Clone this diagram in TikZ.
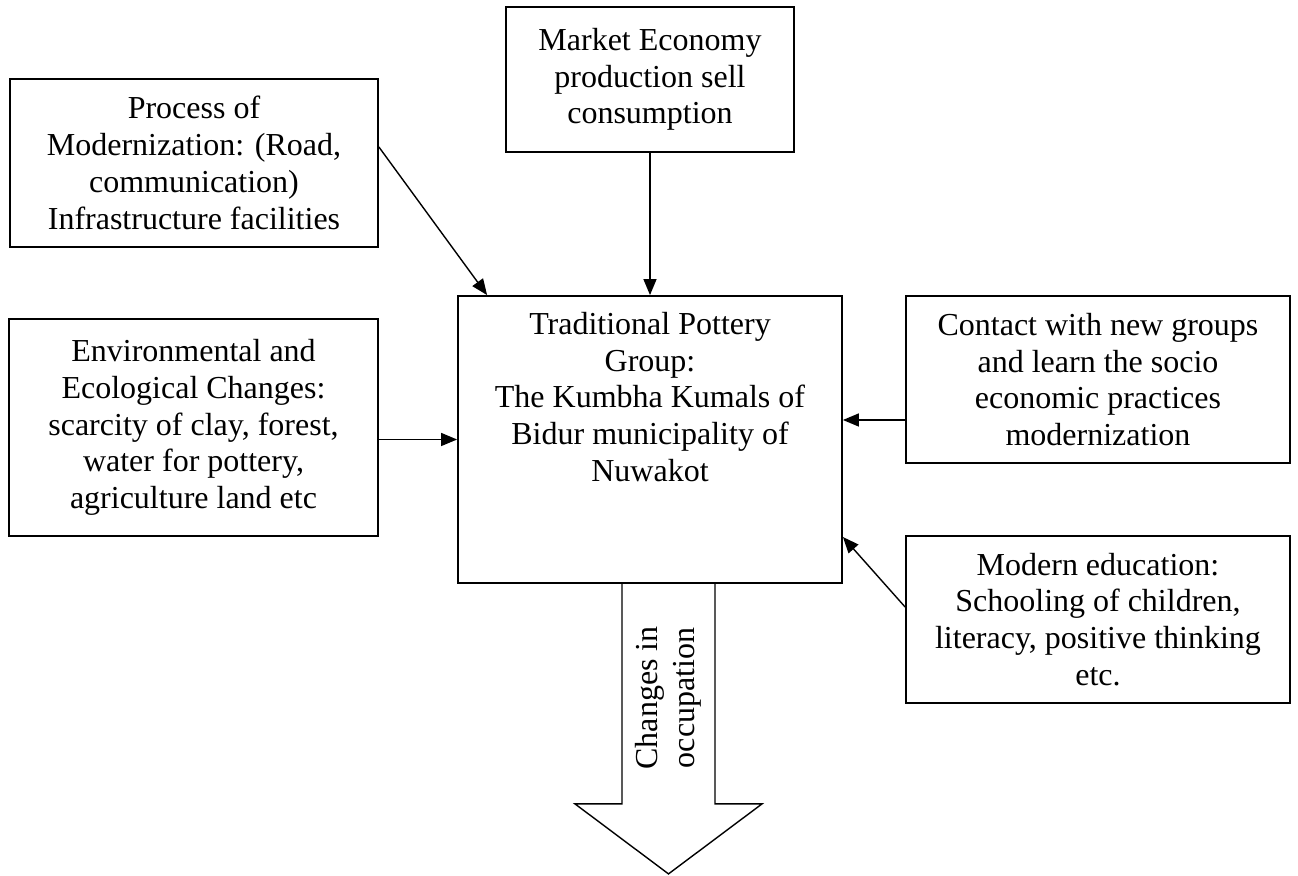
\documentclass[tikz,border=0pt]{standalone}
\usepackage{fontspec}
\setmainfont{Liberation Serif}
\usetikzlibrary{arrows.meta,positioning,calc}
\begin{document}
\begin{tikzpicture}[x=0.5pt,y=-0.5pt,
  txt/.style={align=center,font=\fontsize{16}{18.4}\selectfont},
  box/.style={txt,draw,line width=0.9pt,inner sep=0pt},
  arr/.style={-{Triangle[length=8pt,width=6.5pt]},line width=0.7pt}]
%
\useasboundingbox (0,0) rectangle (1298,876);
%
\node[box,minimum width=144pt,minimum height=72.5pt] (market) at (650,79.5) {Market Economy\\production sell\\consumption};
\node[box,minimum width=184pt,minimum height=84pt] (proc) at (194,163) {Process of\\Modernization: (Road,\\communication)\\Infrastructure facilities};
\node[box,minimum width=184.5pt,minimum height=108.5pt] (env) at (193.5,427.5) {Environmental and\\Ecological Changes:\\scarcity of clay, forest,\\water for pottery,\\agriculture land etc};
\node[box,minimum width=192pt,minimum height=143.5pt] (pot) at (650,439.5) {};
\node[txt,anchor=north] (pottext) at ([yshift=-5pt]pot.north) {Traditional Pottery\\Group:\\The Kumbha Kumals of\\Bidur municipality of\\Nuwakot};
\node[box,minimum width=192pt,minimum height=83.5pt] (contact) at (1098,379.5) {Contact with new groups\\and learn the socio\\economic practices\\modernization};
\node[box,minimum width=192pt,minimum height=83.5pt] (edu) at (1098,619.5) {Modern education:\\Schooling of children,\\literacy, positive thinking\\etc.};
%
\draw[arr] (market) -- (pot);
\draw[arr] ([yshift=8pt]proc.east) -- ([xshift=15pt]pot.north west);
\draw[arr] (env.east |- pot.west) -- (pot.west);
\draw[arr] ([yshift=-20.25pt]contact.west) -- ([yshift=9.75pt]pot.east);
\draw[arr] ([yshift=6.25pt]edu.west) -- ([yshift=-48.75pt]pot.east);
%
% big arrow out of the group
\coordinate (tail) at ([xshift=9.25pt]pot.south);
\draw[line width=0.7pt] ($(tail)+(-46.5,0)$) -- ++(0,220) -- ++(-47,0) -- ++(93.5,70)
  -- ++(93.5,-70) -- ++(-47,0) -- ++(0,-220);
\node[txt,rotate=90] (occ) at ($(tail)+(0,114)$) {Changes in\\occupation};
%
\end{tikzpicture}
\end{document}
